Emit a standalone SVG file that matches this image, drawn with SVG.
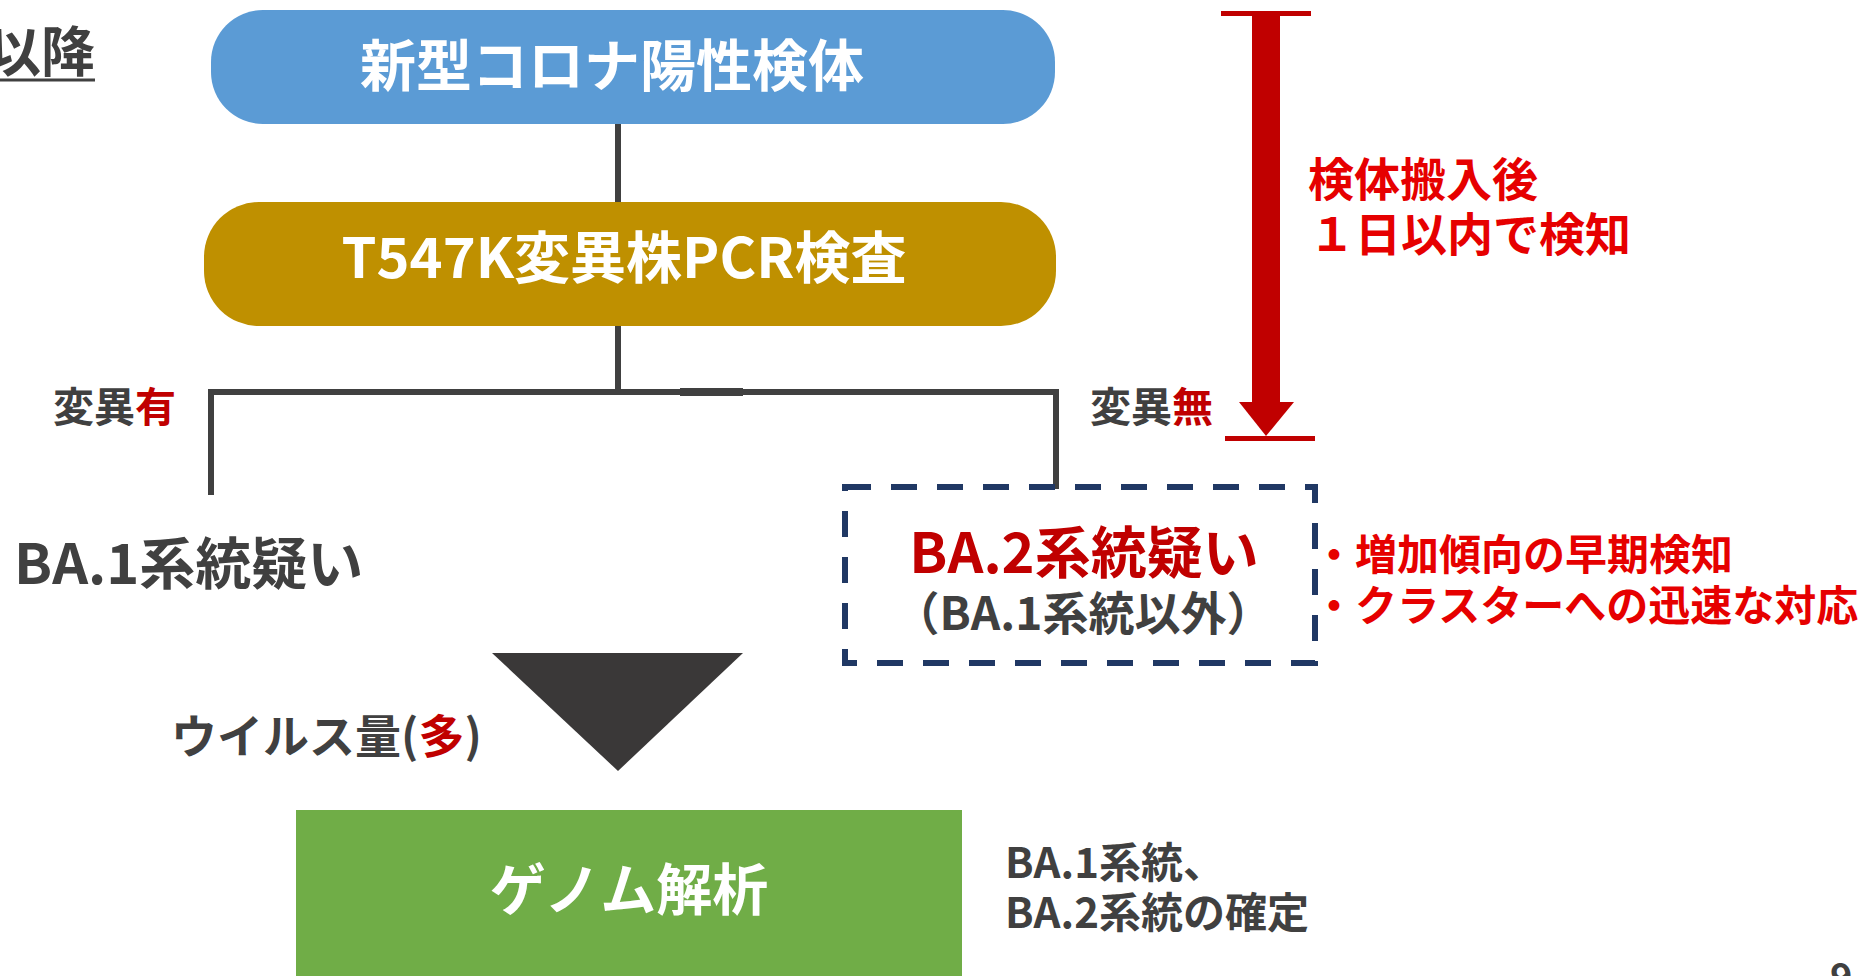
<svg xmlns="http://www.w3.org/2000/svg" width="1863" height="976" viewBox="0 0 1863 976">
  <style>
    .t { font-family: "Noto Sans CJK JP", "Noto Sans", sans-serif; font-weight: 700; }
    .w { fill: #ffffff; }
    .g { fill: #404040; }
    .dr { fill: #c00000; }
    .br { fill: #e60000; }
    .conn { stroke: #404040; stroke-width: 6; fill: none; }
  </style>
  <rect width="1863" height="976" fill="#ffffff"/>

  <g id="title">
    <text class="t g" x="95" y="72" font-size="54" text-anchor="end">以降</text>
    <line x1="0" y1="80" x2="95" y2="80" stroke="#404040" stroke-width="3"/>
  </g>

  <g id="connectors">
    <line class="conn" x1="618" y1="124" x2="618" y2="202"/>
    <line class="conn" x1="618" y1="326" x2="618" y2="392"/>
    <polyline class="conn" points="211,495 211,392 1056,392 1056,489"/>
    <line x1="680" y1="392" x2="743" y2="392" stroke="#404040" stroke-width="8"/>
  </g>

  <g id="node-positive">
    <rect x="211" y="10" width="844" height="114" rx="52" ry="52" fill="#5b9bd5"/>
    <text class="t w" x="612" y="86" font-size="56" text-anchor="middle">新型コロナ陽性検体</text>
  </g>

  <g id="node-pcr">
    <rect x="204" y="202" width="852" height="124" rx="55" ry="55" fill="#bf9000"/>
    <text class="t w" x="624" y="278" font-size="56" text-anchor="middle">T547K変異株PCR検査</text>
  </g>

  <g id="label-yes">
    <text class="t g" x="53" y="422" font-size="41">変異<tspan class="dr">有</tspan></text>
  </g>
  <g id="label-no">
    <text class="t g" x="1090" y="422" font-size="41">変異<tspan class="dr">無</tspan></text>
  </g>

  <g id="node-ba1">
    <text class="t g" x="14" y="584" font-size="56">BA.1系統疑い</text>
  </g>

  <g id="node-ba2">
    <rect x="845" y="487" width="470" height="176" fill="none" stroke="#203864" stroke-width="6" stroke-dasharray="26 20"/>
    <text class="t dr" x="1084" y="573" font-size="56" text-anchor="middle">BA.2系統疑い</text>
    <text class="t g" x="1083" y="630" font-size="46" text-anchor="middle">（BA.1系統以外）</text>
  </g>

  <g id="notes-ba2">
    <text class="t br" x="1313" y="570" font-size="42">・増加傾向の早期検知</text>
    <text class="t br" x="1313" y="621" font-size="42">・クラスターへの迅速な対応</text>
  </g>

  <g id="time-arrow">
    <line x1="1221" y1="13.5" x2="1311" y2="13.5" stroke="#c00000" stroke-width="5"/>
    <rect x="1252" y="14" width="28" height="390" fill="#c00000"/>
    <polygon points="1239,402 1294,402 1266,436" fill="#c00000"/>
    <line x1="1225" y1="438.5" x2="1315" y2="438.5" stroke="#c00000" stroke-width="5"/>
    <text class="t br" x="1308" y="196" font-size="46">検体搬入後</text>
    <text class="t br" x="1309" y="251" font-size="46">１日以内で検知</text>
  </g>

  <g id="node-triangle">
    <polygon points="492,653 743,653 618,771" fill="#3a3838"/>
  </g>

  <g id="label-viral">
    <text class="t g" x="171" y="753" font-size="46">ウイルス量(<tspan class="dr">多</tspan>)</text>
  </g>

  <g id="node-genome">
    <rect x="296" y="810" width="666" height="170" fill="#70ad47"/>
    <text class="t w" x="629" y="910" font-size="56" text-anchor="middle">ゲノム解析</text>
  </g>

  <g id="label-confirm">
    <text class="t g" x="1005" y="878" font-size="42">BA.1系統、</text>
    <text class="t g" x="1005" y="928" font-size="42">BA.2系統の確定</text>
  </g>

  <g id="page-number">
    <text class="t g" x="1830" y="990" font-size="38">9</text>
  </g>
</svg>
